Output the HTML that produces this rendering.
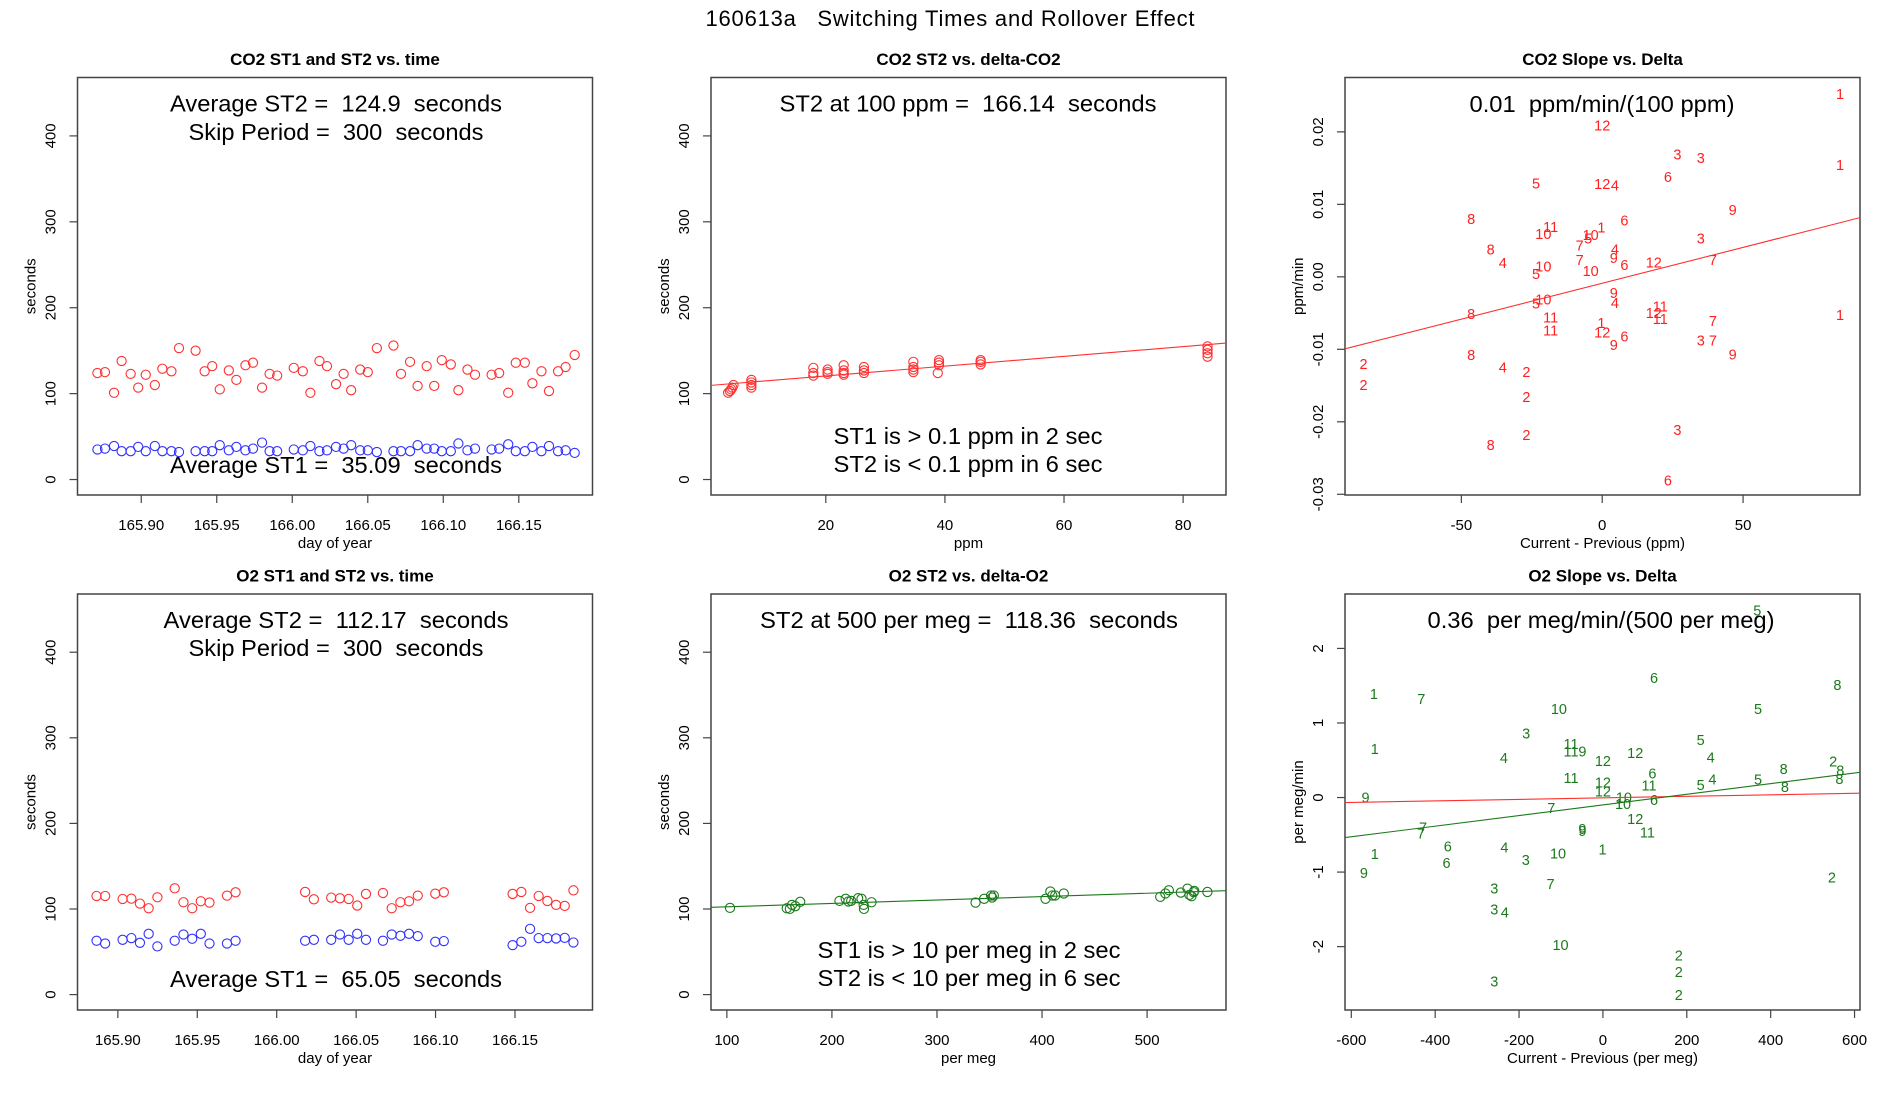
<!DOCTYPE html>
<html><head><meta charset="utf-8">
<style>
html,body{margin:0;padding:0;background:#fff;}
svg{display:block;font-family:"Liberation Sans",sans-serif;}
svg text{white-space:pre;}
</style></head>
<body>
<svg id="fig" width="1900" height="1100" viewBox="0 0 1900 1100">
<text x="950" y="26" font-size="22" text-anchor="middle" textLength="489" xml:space="preserve">160613a   Switching Times and Rollover Effect</text>
</svg>
<script>
// ---- Panel 1: CO2 ST1/ST2 vs time ----
const co2Days = [165.871,165.876,165.882,165.887,165.893,165.898,165.903,165.909,165.914,165.920,165.925,165.936,165.942,165.947,165.952,165.958,165.963,165.969,165.974,165.980,165.985,165.990,166.001,166.007,166.012,166.018,166.023,166.029,166.034,166.039,166.045,166.050,166.056,166.067,166.072,166.078,166.083,166.089,166.094,166.099,166.105,166.110,166.116,166.121,166.132,166.137,166.143,166.148,166.154,166.159,166.165,166.170,166.176,166.181,166.187];
const co2ST2 = [124,125,101,138,123,107,122,110,129,126,153,150,126,132,105,127,116,133,136,107,123,121,130,126,101,138,132,111,123,104,128,125,153,156,123,137,109,132,109,139,134,104,128,122,122,124,101,136,136,112,126,103,126,131,145];
const co2ST1 = [35,36,39,33,33,38,33,39,33,33,32,33,33,33,40,34,38,34,36,43,33,33,35,34,39,33,34,38,36,40,34,34,32,33,33,33,40,36,36,33,33,42,34,36,35,36,41,33,33,38,33,39,33,34,31];
const timeTicks = [165.90,165.95,166.00,166.05,166.10,166.15];
const timeTickLabels = ["165.90","165.95","166.00","166.05","166.10","166.15"];
const secTicks = [0,100,200,300,400];
const secTickLabels = ["0","100","200","300","400"];
// ---- Panel 2: CO2 ST2 vs delta ----
const co2Delta = [3.6,3.9,4.1,4.3,4.5,7.5,7.5,7.5,7.5,17.9,17.9,17.9,20.3,20.3,20.3,23,23,23,23,26.4,26.4,26.4,34.7,34.7,34.7,34.7,39,39,39,38.8,46,46,46,84.1,84.1,84.1,84.1];
const co2DeltaST2 = [101,103,105,107,110,116,113,110,107,130,124,121,128,125,123,133,127,124,122,131,127,124,137,131,128,125,139,136,133,124,139,137,134,155,151,147,143];
const co2FitCoef = [109.2,0.5695];
const ppmTicks = [20,40,60,80];
const ppmTickLabels = ["20","40","60","80"];
// ---- Panel 3: CO2 slope vs delta ----
const co2SlopeLabels = ["1","12","3","3","1","6","5","12","4","9","8","6","11","1","10","10","5","3","7","8","4","9","4","7","7","12","6","10","10","5","9","10","4","5","11","12","8","1","11","11","7","1","12","11","6","3","7","9","8","9","2","4","2","2","2","3","2","8","6"];
const co2SlopeX = [84.4,0,26.7,35,84.4,23.3,-23.5,0,4.5,46.3,-46.5,7.9,-18.3,-0.3,-20.9,-4.1,-5,35,-8,-39.6,4.5,4.1,-35.3,-8,39.3,18.3,7.9,-20.9,-4.1,-23.5,4.1,-20.9,4.5,-23.5,20.6,18.3,-46.5,84.4,-18.3,20.6,39.3,-0.3,0,-18.3,7.9,35,39.3,4.1,-46.5,46.3,-84.7,-35.3,-26.9,-84.7,-26.9,26.7,-26.9,-39.6,23.3];
const co2SlopeY = [0.0252,0.0209,0.0169,0.0164,0.0154,0.0138,0.0129,0.0128,0.0126,0.0092,0.0080,0.0078,0.0069,0.0068,0.0059,0.0058,0.0053,0.0053,0.0043,0.0038,0.0038,0.0026,0.0019,0.0023,0.0023,0.0020,0.0016,0.0014,0.0008,0.0004,-0.0022,-0.0031,-0.0036,-0.0037,-0.0041,-0.0050,-0.0051,-0.0053,-0.0056,-0.0058,-0.0061,-0.0064,-0.0077,-0.0074,-0.0082,-0.0088,-0.0088,-0.0094,-0.0108,-0.0107,-0.0120,-0.0125,-0.0131,-0.0149,-0.0166,-0.0211,-0.0218,-0.0232,-0.0281];
const co2SlopeFit = [-0.00089,0.000099];
const deltaPpmTicks = [-50,0,50];
const deltaPpmTickLabels = ["-50","0","50"];
const slopeTicks = [-0.03,-0.02,-0.01,0,0.01,0.02];
const slopeTickLabels = ["-0.03","-0.02","-0.01","0.00","0.01","0.02"];
// ---- Panel 4: O2 ST1/ST2 vs time ----
const o2Days = [165.8866,165.8920,165.9030,165.9085,165.9139,165.9194,165.9249,165.9358,165.9413,165.9468,165.9522,165.9577,165.9687,165.9741,166.0179,166.0234,166.0343,166.0398,166.0453,166.0507,166.0562,166.0669,166.0724,166.0779,166.0833,166.0888,166.0998,166.1052,166.1485,166.1540,166.1595,166.1649,166.1704,166.1759,166.1813,166.1868];
const o2ST2 = [115.2,115.2,111.7,112.1,106.3,100.9,113.7,124.2,107.9,100.9,109.0,107.5,115.6,119.5,119.9,111.3,113.3,112.5,111.7,104.0,117.6,118.7,100.9,107.9,109.0,115.6,117.9,119.5,117.6,119.9,101.3,115.2,109.4,104.8,103.6,121.8];
const o2ST1 = [62.9,59.7,64.0,66.0,60.5,71.0,56.3,62.9,70.2,65.2,71.0,59.7,59.7,62.9,62.9,64.0,64.0,70.2,64.0,71.0,64.0,62.9,70.2,68.7,71.0,68.3,61.7,62.5,57.8,61.7,76.8,66.0,66.0,65.6,66.3,60.9];
// ---- Panel 5: O2 ST2 vs delta ----
const o2Delta = [103.0,157.0,160.0,162.0,165.2,169.8,207.2,213.1,215.7,218.4,224.9,228.2,230.2,230.5,237.7,336.7,344.9,351.5,352.5,354.1,403.3,407.9,409.8,412.5,420.7,512.5,517.4,520.7,532.1,538.4,540.3,542.3,544.3,544.9,557.4];
const o2DeltaST2 = [101.3,100.9,100.1,104.8,103.3,108.4,109.5,111.9,108.8,109.5,112.6,111.9,104.8,100.1,107.9,107.5,111.9,115.8,113.4,115.8,111.9,120.4,115.8,115.8,118.1,114.2,118.1,121.9,119.2,123.8,116.5,114.9,119.6,121.1,119.9];
const o2FitCoef = [98.6,0.0396];
const permegTicks = [100,200,300,400,500];
const permegTickLabels = ["100","200","300","400","500"];
// ---- Panel 6: O2 slope vs delta ----
const o2SlopeLabels = ["5","6","8","1","7","10","5","3","5","11","11","9","12","1","4","4","12","2","8","8","6","11","4","5","5","12","11","8","8","12","10","9","10","6","7","12","7","7","9","9","11","6","4","1","10","1","3","6","9","2","7","3","3","4","10","2","2","3","2"];
const o2SlopeX = [368,122,559,-546,-433,-105,370,-183,233,-76,-76,-49,77,-544,-236,257,0,549,431,566,118,-76,261,233,370,0,110,564,434,0,50,-566,48,122,-123,77,-429,-434,-49,-49,106,-370,-235,-1,-107,-544,-184,-373,-570,546,-125,-259,-259,-234,-101,181,181,-259,181];
const o2SlopeY = [2.51,1.60,1.51,1.39,1.32,1.19,1.19,0.86,0.77,0.72,0.62,0.62,0.60,0.65,0.53,0.54,0.49,0.48,0.38,0.36,0.32,0.26,0.24,0.17,0.24,0.20,0.16,0.25,0.14,0.08,0.00,0.00,-0.09,-0.03,-0.14,-0.29,-0.40,-0.48,-0.42,-0.45,-0.47,-0.66,-0.67,-0.70,-0.75,-0.76,-0.84,-0.88,-1.01,-1.07,-1.16,-1.22,-1.50,-1.54,-1.98,-2.12,-2.34,-2.47,-2.65];
const o2SlopeFitGreen = [-0.099,0.000713];
const o2SlopeFitRed = [-0.0044,0.000102];
const deltaMegTicks = [-600,-400,-200,0,200,400,600];
const deltaMegTickLabels = ["-600","-400","-200","0","200","400","600"];
const o2SlopeTicks = [-2,-1,0,1,2];
const o2SlopeTickLabels = ["-2","-1","0","1","2"];

const NS = "http://www.w3.org/2000/svg";
const svg = document.getElementById('fig');
function mk(tag, parent, attrs){
  const e = document.createElementNS(NS, tag);
  for (const k in attrs) e.setAttribute(k, attrs[k]);
  parent.appendChild(e);
  return e;
}
function panel(cfg){
  const g = mk('g', svg, {});
  
  
  const sx = v => cfg.x0 + (v - cfg.xd[0]) / (cfg.xd[1] - cfg.xd[0]) * (cfg.x1 - cfg.x0);
  const sy = v => cfg.y1 - (v - cfg.yd[0]) / (cfg.yd[1] - cfg.yd[0]) * (cfg.y1 - cfg.y0);
  const cx = (cfg.x0 + cfg.x1) / 2, cy = (cfg.y0 + cfg.y1) / 2;
  const t = mk('text', g, {x: cx, y: cfg.y0 - 12.5, 'font-size': 17, 'font-weight': 'bold', 'text-anchor': 'middle'});
  t.textContent = cfg.title;
  
  
  const box = mk('rect', g, {x: cfg.x0, y: cfg.y0, width: cfg.x1 - cfg.x0, height: cfg.y1 - cfg.y0, fill: 'none', stroke: '#444', 'stroke-width': 1.5});
  
  
  const xa = mk('g', g, {});
  
  
  cfg.xt.forEach((v, i) => {
    const x = sx(v);
    mk('line', xa, {x1: x, x2: x, y1: cfg.y1, y2: cfg.y1 + 8, stroke: '#444', 'stroke-width': 1.2});
    const l = mk('text', xa, {x: x, y: cfg.y1 + 35, 'font-size': 15, 'text-anchor': 'middle'});
    l.textContent = cfg.xl[i];
    
    
  });
  const xt = mk('text', g, {x: cx, y: cfg.y1 + 53, 'font-size': 15, 'text-anchor': 'middle'});
  xt.textContent = cfg.xtitle;
  
  
  const ya = mk('g', g, {});
  
  
  cfg.yt.forEach((v, i) => {
    const y = sy(v);
    mk('line', ya, {x1: cfg.x0, x2: cfg.x0 - 8, y1: y, y2: y, stroke: '#444', 'stroke-width': 1.2});
    const lx = cfg.x0 - 22;
    const l = mk('text', ya, {x: lx, y: y, 'font-size': 15, 'text-anchor': 'middle', transform: `rotate(-90 ${lx} ${y})`});
    l.textContent = cfg.yl[i];
    
    
  });
  const ytx = cfg.x0 - 42;
  const yt = mk('text', g, {x: ytx, y: cy, 'font-size': 15, 'text-anchor': 'middle', transform: `rotate(-90 ${ytx} ${cy})`});
  yt.textContent = cfg.ytitle;
  
  
  const cid = 'c' + cfg.name;
  const cp = mk('clipPath', g, {id: cid});
  mk('rect', cp, {x: cfg.x0, y: cfg.y0, width: cfg.x1 - cfg.x0, height: cfg.y1 - cfg.y0});
  const pg = mk('g', g, {'clip-path': `url(#${cid})`});
  
  
  (cfg.notes || []).forEach(n => {
    const a = mk('text', g, {x: n.x, y: n.y, 'font-size': 23, 'text-anchor': 'middle', textLength: n.w, lengthAdjust: 'spacingAndGlyphs'});
    a.textContent = n.t;
    
    
  });
  return {sx, sy, pg};
}
function circles(p, xs, ys, color, name){
  xs.forEach((v, i) => {
    const c = mk('circle', p.pg, {cx: p.sx(v), cy: p.sy(ys[i]), r: 4.6, fill: 'none', stroke: color, 'stroke-width': 1.1});
    
    
  });
}
function labels(p, labs, xs, ys, color, name){
  labs.forEach((s, i) => {
    const t = mk('text', p.pg, {x: p.sx(xs[i]), y: p.sy(ys[i]) + 5, 'font-size': 14.5, fill: color, 'text-anchor': 'middle'});
    t.textContent = s;
    
    
  });
}
function fitline(p, coef, xd, color, name){
  const l = mk('line', p.pg, {x1: p.sx(xd[0]), y1: p.sy(coef[0] + coef[1] * xd[0]), x2: p.sx(xd[1]), y2: p.sy(coef[0] + coef[1] * xd[1]), stroke: color, 'stroke-width': 1.1});
  
  
}

const TY0 = 77.5, TY1 = 495, BY0 = 594, BY1 = 1010;
const C1 = [77.5, 592.5], C2 = [711, 1226], C3 = [1345, 1860];

const p1 = panel({name: 'co2-time-panel', title: 'CO2 ST1 and ST2 vs. time', x0: C1[0], x1: C1[1], y0: TY0, y1: TY1,
  xd: [165.8578, 166.1988], yd: [-18, 468], xt: timeTicks, xl: timeTickLabels, yt: secTicks, yl: secTickLabels,
  xtitle: 'day of year', ytitle: 'seconds',
  notes: [{t: 'Average ST2 =  124.9  seconds', x: 336, y: 111.5, w: 332}, {t: 'Skip Period =  300  seconds', x: 336, y: 140, w: 295}, {t: 'Average ST1 =  35.09  seconds', x: 336, y: 473, w: 332}]});
circles(p1, co2Days, co2ST2, '#ff3030', 'st2-point');
circles(p1, co2Days, co2ST1, '#3030ff', 'st1-point');

const p2 = panel({name: 'co2-delta-panel', title: 'CO2 ST2 vs. delta-CO2', x0: C2[0], x1: C2[1], y0: TY0, y1: TY1,
  xd: [0.72, 87.2], yd: [-18, 468], xt: ppmTicks, xl: ppmTickLabels, yt: secTicks, yl: secTickLabels,
  xtitle: 'ppm', ytitle: 'seconds',
  notes: [{t: 'ST2 at 100 ppm =  166.14  seconds', x: 968, y: 111.5, w: 377}, {t: 'ST1 is > 0.1 ppm in 2 sec', x: 968, y: 444, w: 269}, {t: 'ST2 is < 0.1 ppm in 6 sec', x: 968, y: 472, w: 269}]});
circles(p2, co2Delta, co2DeltaST2, '#ff3030', 'st2-point');
fitline(p2, co2FitCoef, [0.72, 87.2], '#ff3030', 'fit-line');

const p3 = panel({name: 'co2-slope-panel', title: 'CO2 Slope vs. Delta', x0: C3[0], x1: C3[1], y0: TY0, y1: TY1,
  xd: [-91.3, 91.5], yd: [-0.0301, 0.0275], xt: deltaPpmTicks, xl: deltaPpmTickLabels, yt: slopeTicks, yl: slopeTickLabels,
  xtitle: 'Current - Previous (ppm)', ytitle: 'ppm/min',
  notes: [{t: '0.01  ppm/min/(100 ppm)', x: 1602, y: 112, w: 265}]});
labels(p3, co2SlopeLabels, co2SlopeX, co2SlopeY, '#ff2020', 'month-label');
fitline(p3, co2SlopeFit, [-91.3, 91.5], '#ff3030', 'fit-line');

const p4 = panel({name: 'o2-time-panel', title: 'O2 ST1 and ST2 vs. time', x0: C1[0], x1: C1[1], y0: BY0, y1: BY1,
  xd: [165.8746, 166.1988], yd: [-18, 468], xt: timeTicks, xl: timeTickLabels, yt: secTicks, yl: secTickLabels,
  xtitle: 'day of year', ytitle: 'seconds',
  notes: [{t: 'Average ST2 =  112.17  seconds', x: 336, y: 628, w: 345}, {t: 'Skip Period =  300  seconds', x: 336, y: 656, w: 295}, {t: 'Average ST1 =  65.05  seconds', x: 336, y: 987, w: 332}]});
circles(p4, o2Days, o2ST2, '#ff3030', 'st2-point');
circles(p4, o2Days, o2ST1, '#3030ff', 'st1-point');

const p5 = panel({name: 'o2-delta-panel', title: 'O2 ST2 vs. delta-O2', x0: C2[0], x1: C2[1], y0: BY0, y1: BY1,
  xd: [84.9, 575.1], yd: [-18, 468], xt: permegTicks, xl: permegTickLabels, yt: secTicks, yl: secTickLabels,
  xtitle: 'per meg', ytitle: 'seconds',
  notes: [{t: 'ST2 at 500 per meg =  118.36  seconds', x: 969, y: 628, w: 418}, {t: 'ST1 is > 10 per meg in 2 sec', x: 969, y: 958, w: 303}, {t: 'ST2 is < 10 per meg in 6 sec', x: 969, y: 986, w: 303}]});
circles(p5, o2Delta, o2DeltaST2, '#1a7a1a', 'st2-point');
fitline(p5, o2FitCoef, [84.9, 575.1], '#1a7a1a', 'fit-line');

const p6 = panel({name: 'o2-slope-panel', title: 'O2 Slope vs. Delta', x0: C3[0], x1: C3[1], y0: BY0, y1: BY1,
  xd: [-615, 613], yd: [-2.85, 2.73], xt: deltaMegTicks, xl: deltaMegTickLabels, yt: o2SlopeTicks, yl: o2SlopeTickLabels,
  xtitle: 'Current - Previous (per meg)', ytitle: 'per meg/min',
  notes: [{t: '0.36  per meg/min/(500 per meg)', x: 1601, y: 628, w: 347}]});
labels(p6, o2SlopeLabels, o2SlopeX, o2SlopeY, '#1a7a1a', 'month-label');
fitline(p6, o2SlopeFitRed, [-615, 613], '#ff3030', 'fit-line-red');
fitline(p6, o2SlopeFitGreen, [-615, 613], '#1a7a1a', 'fit-line-green');
</script>
</body></html>
